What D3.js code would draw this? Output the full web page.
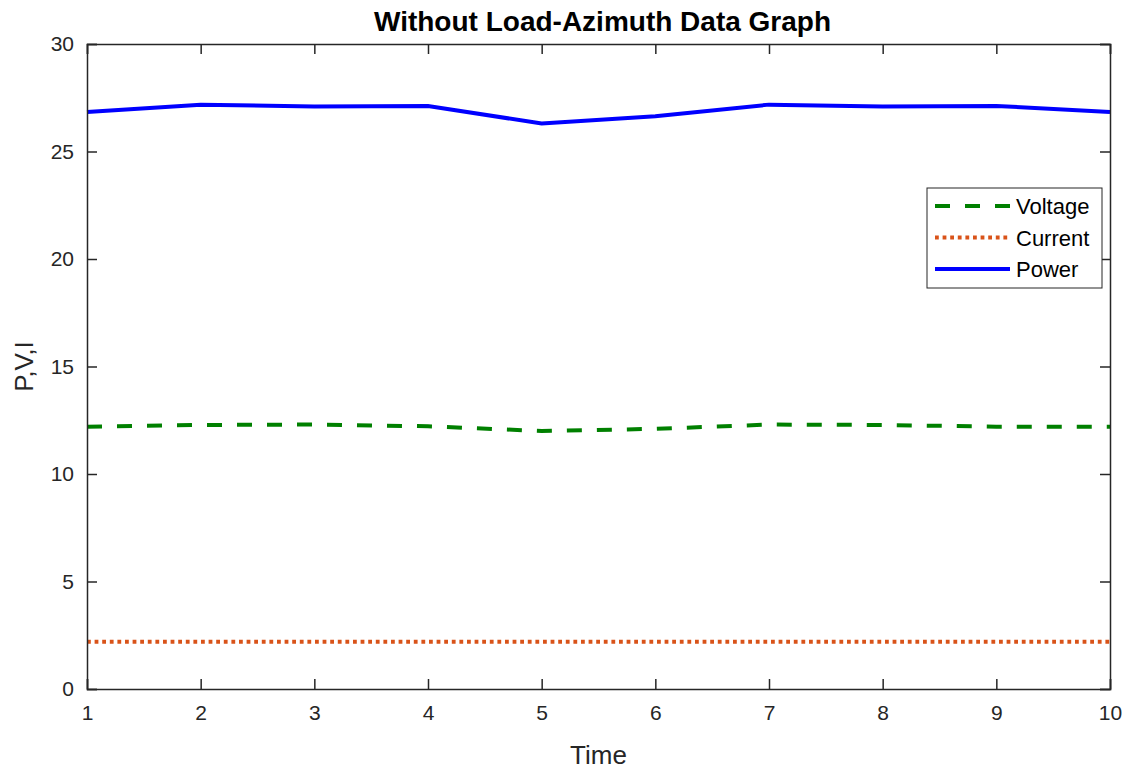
<!DOCTYPE html>
<html lang="en">
<head>
    <meta charset="UTF-8">
    <title>Without Load-Azimuth Data Graph</title>
    <script type="text/javascript" src="https://d3js.org/d3.v7.min.js"></script>
    <style>
        body { margin: 0; background: #fff; }
        text { font-family: Arial, "Liberation Sans", Helvetica, sans-serif; fill: #262626; }
    </style>
</head>
<body>
<svg class="chart"></svg>

<script type="text/javascript">

    const width = 1130;
    const height = 771;

    // data
    const time = [1, 2, 3, 4, 5, 6, 7, 8, 9, 10];
    const voltage = [12.2, 12.28, 12.3, 12.22, 12.0, 12.1, 12.3, 12.28, 12.2, 12.2];
    const current = [2.2, 2.2, 2.2, 2.2, 2.2, 2.2, 2.2, 2.2, 2.2, 2.2];
    const power = [26.84, 27.18, 27.09, 27.12, 26.3, 26.64, 27.18, 27.09, 27.12, 26.84];
    const xTicks = [1, 2, 3, 4, 5, 6, 7, 8, 9, 10];
    const yTicks = [0, 5, 10, 15, 20, 25, 30];

    const series = [
        {name: "Voltage", values: voltage, color: "#008000", dash: "15,15"},
        {name: "Current", values: current, color: "#d95319", dash: "3.8,3.8"},
        {name: "Power", values: power, color: "#0000ff", dash: null}
    ];

    let margin = {left: 87, right: 20, top: 44, bottom: 82};

    let svg = d3.select(".chart")
        .attr("width", width)
        .attr("height", height);

    let x = d3.scaleLinear()
        .domain([1, 10])
        .range([margin.left, width - margin.right]);

    let y = d3.scaleLinear()
        .domain([0, 30])
        .range([height - margin.bottom, margin.top]);

    // lines
    let line = d3.line()
        .x((d, i) => x(time[i]))
        .y(d => y(d));

    svg.append("g").selectAll("path").data(series).enter().append("path")
        .attr("d", d => line(d.values))
        .attr("fill", "none")
        .attr("stroke", d => d.color)
        .attr("stroke-width", 4)
        .attr("stroke-dasharray", d => d.dash);

    // axes, ticks inward on all four sides
    const tickLen = 10;
    let axisColor = "#262626";

    svg.append("g")
        .attr("transform", "translate(0," + y(0) + ")")
        .call(d3.axisBottom(x).tickValues(xTicks).tickSize(-tickLen).tickPadding(16).tickFormat(d3.format("d")))
        .call(g => g.selectAll("text").attr("font-size", 21).style("fill", axisColor));

    svg.append("g")
        .attr("transform", "translate(0," + y(30) + ")")
        .call(d3.axisTop(x).tickValues(xTicks).tickSize(-tickLen).tickFormat(""));

    svg.append("g")
        .attr("transform", "translate(" + x(1) + ",0)")
        .call(d3.axisLeft(y).tickValues(yTicks).tickSize(-tickLen).tickPadding(13))
        .call(g => g.selectAll("text").attr("font-size", 21).style("fill", axisColor));

    svg.append("g")
        .attr("transform", "translate(" + x(10) + ",0)")
        .call(d3.axisRight(y).tickValues(yTicks).tickSize(-tickLen).tickFormat(""));

    svg.selectAll(".domain, .tick line")
        .attr("stroke", axisColor)
        .attr("stroke-width", 1.5);

    // title and labels
    svg.append("text")
        .attr("x", (x(1) + x(10)) / 2 + 4)
        .attr("y", 31)
        .attr("text-anchor", "middle")
        .attr("font-size", 28)
        .attr("font-weight", "bold")
        .style("fill", "#000")
        .text("Without Load-Azimuth Data Graph");

    svg.append("text")
        .attr("x", (x(1) + x(10)) / 2)
        .attr("y", 764)
        .attr("text-anchor", "middle")
        .attr("font-size", 26)
        .text("Time");

    svg.append("text")
        .attr("transform", "translate(33," + (y(15)) + ") rotate(-90)")
        .attr("text-anchor", "middle")
        .attr("font-size", 26)
        .text("P,V,I");

    // legend
    let legend = svg.append("g").attr("transform", "translate(927,188)");
    legend.append("rect")
        .attr("width", 175)
        .attr("height", 100)
        .attr("fill", "#fff")
        .attr("stroke", "#262626")
        .attr("stroke-width", 1);

    let item = legend.selectAll("g.item").data(series).enter().append("g")
        .attr("class", "item")
        .attr("transform", (d, i) => "translate(0," + (18 + i * 31.5) + ")");

    item.append("line")
        .attr("x1", 8).attr("x2", 83)
        .attr("stroke", d => d.color)
        .attr("stroke-width", 4)
        .attr("stroke-dasharray", d => d.dash);

    item.append("text")
        .attr("x", 89)
        .attr("y", 8)
        .attr("font-size", 22)
        .style("fill", "#000")
        .text(d => d.name);

</script>

</body>
</html>
